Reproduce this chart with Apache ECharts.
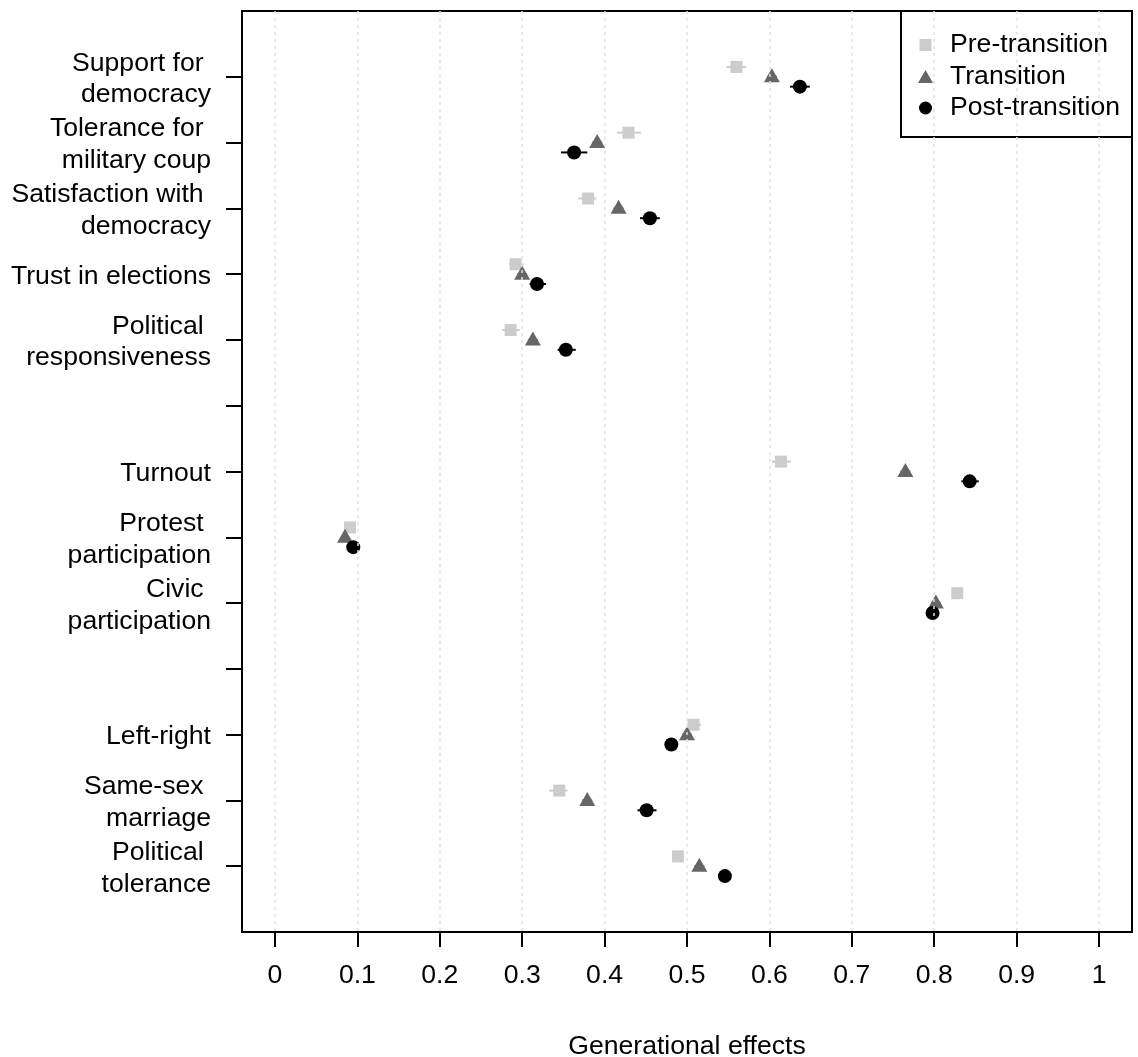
<!DOCTYPE html>
<html>
<head>
<meta charset="utf-8">
<script src="https://cdn.jsdelivr.net/npm/echarts@6/dist/echarts.min.js"></script>
<style>
html, body { margin: 0; padding: 0; background: #ffffff; }
#chart { width: 1138px; height: 1057px; }
</style>
</head>
<body>
<div id="chart"></div>
<script>
// ---- Data ----
const outcomes = [
  'Support for \ndemocracy',
  'Tolerance for \nmilitary coup',
  'Satisfaction with \ndemocracy',
  'Trust in elections',
  'Political \nresponsiveness',
  'Turnout',
  'Protest \nparticipation',
  'Civic \nparticipation',
  'Left-right',
  'Same-sex \nmarriage',
  'Political \ntolerance'
];
const rowPositions = [1, 2, 3, 4, 5, 7, 8, 9, 11, 12, 13];

const preEst   = [0.560, 0.429, 0.380, 0.292, 0.286, 0.614, 0.091, 0.828, 0.508, 0.345, 0.489];
const preLow   = [0.548, 0.415, 0.368, 0.284, 0.276, 0.603, 0.086, 0.823, 0.500, 0.333, 0.484];
const preHigh  = [0.572, 0.444, 0.390, 0.302, 0.297, 0.626, 0.096, 0.833, 0.517, 0.355, 0.494];

const transEst  = [0.603, 0.391, 0.417, 0.300, 0.313, 0.765, 0.085, 0.802, 0.500, 0.379, 0.515];
const transLow  = [0.597, 0.385, 0.411, 0.294, 0.307, 0.759, 0.080, 0.796, 0.494, 0.373, 0.509];
const transHigh = [0.609, 0.397, 0.423, 0.306, 0.319, 0.771, 0.090, 0.808, 0.506, 0.385, 0.521];

const postEst  = [0.637, 0.363, 0.455, 0.318, 0.353, 0.843, 0.095, 0.798, 0.481, 0.451, 0.546];
const postLow  = [0.625, 0.347, 0.443, 0.309, 0.343, 0.833, 0.090, 0.793, 0.476, 0.440, 0.541];
const postHigh = [0.649, 0.379, 0.467, 0.329, 0.365, 0.854, 0.100, 0.803, 0.486, 0.463, 0.551];

const seriesNames = ['Pre-transition', 'Transition', 'Post-transition'];
const xTickValues = [0, 0.1, 0.2, 0.3, 0.4, 0.5, 0.6, 0.7, 0.8, 0.9, 1];
const xTickLabels = ['0', '0.1', '0.2', '0.3', '0.4', '0.5', '0.6', '0.7', '0.8', '0.9', '1'];
const yTickValues = [1, 2, 3, 4, 5, 6, 7, 8, 9, 10, 11, 12, 13];
const xTitle = 'Generational effects';

// ---- Styling / layout ----
const FONT = 'Liberation Sans, Arial, Helvetica, sans-serif';
const FS = 26.6;
const colors = ['#cccccc', '#666666', '#000000'];
const offsets = [-0.15, 0, 0.15];
const LABEL_SHIFT = 0.035; // small downward nudge of row labels relative to ticks

function points(est, k) {
  return est.map((v, i) => [v, rowPositions[i] + offsets[k]]);
}
function bars(lo, hi, k) {
  return lo.map((v, i) => [v, hi[i], rowPositions[i] + offsets[k]]);
}
function errorBarRender(color) {
  return function (params, api) {
    const y = api.value(2);
    const p1 = api.coord([api.value(0), y]);
    const p2 = api.coord([api.value(1), y]);
    return {
      type: 'line',
      shape: { x1: p1[0], y1: p1[1], x2: p2[0], y2: p2[1] },
      style: { stroke: color, lineWidth: 2 }
    };
  };
}
const labelByPos = {};
rowPositions.forEach((p, i) => { labelByPos[p] = outcomes[i]; });

const chart = echarts.init(document.getElementById('chart'), null, { renderer: 'canvas' });

function legendFor(name, w, h, cy) {
  const cx = 925.5;
  const left = cx - w / 2;
  const textStart = 950;
  return {
    data: [name],
    orient: 'vertical',
    left: left,
    top: cy - 31.5 / 2,
    padding: 0,
    itemWidth: w,
    itemHeight: h,
    itemGap: 0,
    selectedMode: false,
    z: 5,
    textStyle: {
      fontFamily: FONT,
      fontSize: FS,
      lineHeight: 31.5,
      color: '#000',
      padding: [0, 0, 0, textStart - (left + w + 5)]
    }
  };
}

const option = {
  animation: false,
  backgroundColor: '#ffffff',
  textStyle: { fontFamily: FONT },
  grid: {
    left: 242, right: 6, top: 11, bottom: 125,
    containLabel: false,
    outerBoundsMode: 'none',
    show: true, borderColor: '#000', borderWidth: 2, backgroundColor: 'transparent'
  },
  legend: [
    legendFor(seriesNames[0], 12, 12, 45),
    legendFor(seriesNames[1], 15, 13, 76.5),
    legendFor(seriesNames[2], 13, 13, 108)
  ],
  graphic: [{
    type: 'rect',
    shape: { x: 901, y: 11, width: 231, height: 126 },
    style: { fill: '#ffffff', stroke: '#000000', lineWidth: 2 },
    z: 3
  }],
  xAxis: {
    type: 'value',
    position: 'bottom',
    min: -0.04, max: 1.04,
    axisLine: { show: false, onZero: false },
    splitLine: { show: false },
    axisTick: { show: true, inside: false, length: 15, customValues: xTickValues, lineStyle: { color: '#000', width: 2 } },
    axisLabel: {
      customValues: xTickValues,
      showMinLabel: true, showMaxLabel: true,
      formatter: function (v) {
        const idx = xTickValues.findIndex(t => Math.abs(t - v) < 1e-9);
        return idx >= 0 ? xTickLabels[idx] : '';
      },
      margin: 30, fontSize: FS, lineHeight: 27, color: '#000', fontFamily: FONT
    },
    name: xTitle,
    nameLocation: 'middle',
    nameGap: 101.5,
    nameMoveOverlap: false,
    nameTextStyle: { fontSize: FS, lineHeight: 27, color: '#000', fontFamily: FONT }
  },
  yAxis: {
    type: 'value',
    position: 'left',
    min: 0, max: 14,
    inverse: true,
    axisLine: { show: false, onZero: false },
    splitLine: { show: false },
    axisTick: { show: true, inside: false, length: 16, customValues: yTickValues, lineStyle: { color: '#000', width: 2 } },
    axisLabel: {
      customValues: yTickValues.map(v => v + LABEL_SHIFT),
      showMinLabel: true, showMaxLabel: true,
      hideOverlap: false,
      formatter: function (v) { return labelByPos[Math.round(v)] || ''; },
      margin: 31, fontSize: FS, lineHeight: 31.6, color: '#000', fontFamily: FONT, align: 'right'
    }
  },
  series: [
    {
      name: 'grid',
      type: 'scatter',
      data: [],
      z: 1,
      silent: true,
      markLine: {
        silent: true,
        symbol: ['none', 'none'],
        label: { show: false },
        animation: false,
        lineStyle: { color: '#e2e2e2', width: 1.5, type: [3, 4] },
        emphasis: { disabled: true },
        data: xTickValues.map(v => ({ xAxis: v }))
      }
    },
    { name: 'Pre-transition CI', type: 'custom', z: 2, silent: true, renderItem: errorBarRender(colors[0]),
      encode: { x: [0, 1], y: 2 }, data: bars(preLow, preHigh, 0) },
    { name: 'Transition CI', type: 'custom', z: 2, silent: true, renderItem: errorBarRender(colors[1]),
      encode: { x: [0, 1], y: 2 }, data: bars(transLow, transHigh, 1) },
    { name: 'Post-transition CI', type: 'custom', z: 2, silent: true, renderItem: errorBarRender(colors[2]),
      encode: { x: [0, 1], y: 2 }, data: bars(postLow, postHigh, 2) },
    { name: seriesNames[0], type: 'scatter', z: 3, symbol: 'rect', symbolSize: [12, 12],
      itemStyle: { color: colors[0], opacity: 1 }, data: points(preEst, 0) },
    { name: seriesNames[1], type: 'scatter', z: 3, symbol: 'triangle', symbolSize: [16, 14], symbolOffset: [0, -1.5],
      itemStyle: { color: colors[1], opacity: 1 }, data: points(transEst, 1) },
    { name: seriesNames[2], type: 'scatter', z: 3, symbol: 'circle', symbolSize: 14,
      itemStyle: { color: colors[2], opacity: 1 }, data: points(postEst, 2) }
  ]
};
chart.setOption(option);
</script>
</body>
</html>
